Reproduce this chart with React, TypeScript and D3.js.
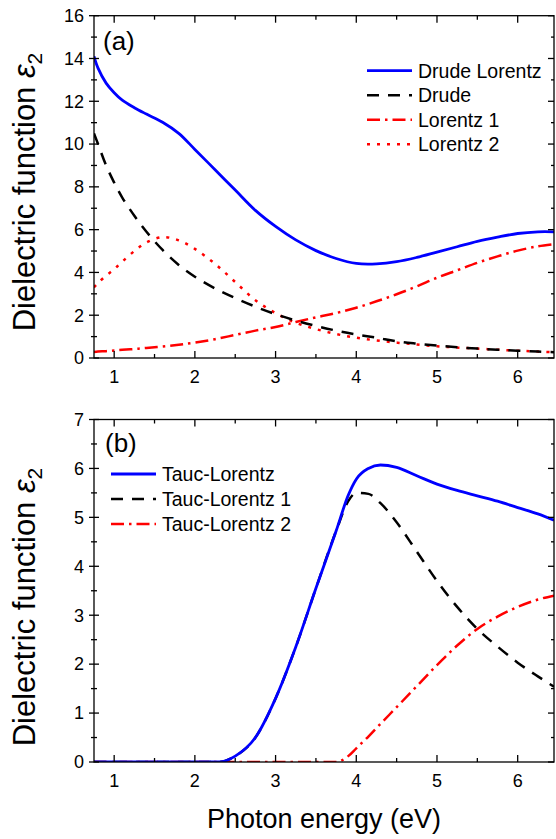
import React from "react";
import * as d3 from "d3";

// panel (a): Drude-Lorentz fit components
const energyA = [0.75, 0.8, 0.9, 1.0, 1.1, 1.25, 1.4, 1.6, 1.8, 2.0, 2.25, 2.5, 2.75, 3.0, 3.25, 3.5, 3.75, 4.0, 4.25, 4.5, 4.75, 5.0, 5.25, 5.5, 5.75, 6.0, 6.25, 6.45];
const drudeLorentz = [14.1, 13.55, 12.85, 12.4, 12.05, 11.7, 11.4, 11.02, 10.5, 9.75, 8.8, 7.85, 6.9, 6.15, 5.52, 5.02, 4.65, 4.42, 4.4, 4.5, 4.7, 4.95, 5.2, 5.45, 5.65, 5.82, 5.9, 5.9];
const drude = [10.5, 10.0, 9.0, 8.2, 7.5, 6.65, 5.9, 5.05, 4.35, 3.8, 3.25, 2.8, 2.4, 2.05, 1.75, 1.5, 1.28, 1.1, 0.95, 0.78, 0.67, 0.58, 0.5, 0.44, 0.39, 0.34, 0.3, 0.27];
const lorentz1 = [0.28, 0.3, 0.32, 0.35, 0.38, 0.42, 0.47, 0.54, 0.62, 0.72, 0.88, 1.08, 1.28, 1.45, 1.68, 1.9, 2.1, 2.35, 2.65, 2.98, 3.35, 3.75, 4.1, 4.45, 4.75, 5.02, 5.22, 5.32];
const lorentz2 = [3.3, 3.5, 3.85, 4.15, 4.5, 5.0, 5.4, 5.65, 5.5, 5.1, 4.4, 3.55, 2.7, 2.1, 1.65, 1.35, 1.12, 0.95, 0.82, 0.72, 0.63, 0.55, 0.49, 0.44, 0.39, 0.34, 0.3, 0.27];

// panel (b): Tauc-Lorentz fit components
const energyB = [0.75, 1.5, 2.0, 2.3, 2.5, 2.75, 3.0, 3.25, 3.5, 3.75, 3.9, 4.0, 4.15, 4.3, 4.5, 4.75, 5.0, 5.25, 5.5, 5.75, 6.0, 6.25, 6.45];
const taucLorentz = [0, 0, 0, 0, 0.12, 0.5, 1.3, 2.35, 3.55, 4.72, 5.45, 5.78, 6.0, 6.07, 6.02, 5.85, 5.68, 5.55, 5.44, 5.33, 5.2, 5.07, 4.94];
const taucLorentz1 = [0, 0, 0, 0, 0.12, 0.5, 1.3, 2.35, 3.55, 4.72, 5.33, 5.5, 5.48, 5.29, 4.9, 4.3, 3.7, 3.17, 2.72, 2.36, 2.03, 1.75, 1.54];
const taucLorentz2 = [0, 0, 0, 0, 0, 0, 0, 0, 0, 0, 0.12, 0.28, 0.52, 0.78, 1.12, 1.55, 1.98, 2.38, 2.72, 2.97, 3.17, 3.32, 3.4];

const xTicks = [1, 2, 3, 4, 5, 6];
const xMinor = [1.5, 2.5, 3.5, 4.5, 5.5, 6.5];
const yTicksA = [0, 2, 4, 6, 8, 10, 12, 14, 16];
const yTicksB = [0, 1, 2, 3, 4, 5, 6, 7];

const FONT = "'Liberation Sans', Arial, sans-serif";
const left = 94;
const right = 554;

const x = d3.scaleLinear().domain([0.75, 6.45]).range([left, right]);

const Frame = ({ y, ticks, minor, top, bottom }) => {
  const minorX = xMinor.filter((v) => x(v) < right);
  return (
    <g stroke="#000" strokeWidth={1.3} fill="none">
      <rect x={left} y={top} width={right - left} height={bottom - top} />
      {xTicks.map((t) => (
        <g key={"x" + t}>
          <line x1={x(t)} x2={x(t)} y1={bottom} y2={bottom - 7} />
          <line x1={x(t)} x2={x(t)} y1={top} y2={top + 7} />
        </g>
      ))}
      {minorX.map((t) => (
        <g key={"xm" + t}>
          <line x1={x(t)} x2={x(t)} y1={bottom} y2={bottom - 4} />
          <line x1={x(t)} x2={x(t)} y1={top} y2={top + 4} />
        </g>
      ))}
      {ticks.map((t) => (
        <g key={"y" + t}>
          <line x1={left - 5} x2={left + 5} y1={y(t)} y2={y(t)} />
          <line x1={right} x2={right - 6} y1={y(t)} y2={y(t)} />
        </g>
      ))}
      {minor.map((t) => (
        <g key={"ym" + t}>
          <line x1={left - 3} x2={left + 3} y1={y(t)} y2={y(t)} />
          <line x1={right} x2={right - 3} y1={y(t)} y2={y(t)} />
        </g>
      ))}
    </g>
  );
};

const TickLabels = ({ y, ticks, bottom }) => (
  <g fontFamily={FONT} fontSize={18} fill="#000">
    {xTicks.map((t) => (
      <text key={"xl" + t} x={x(t)} y={bottom + 25} textAnchor="middle">
        {t}
      </text>
    ))}
    {ticks.map((t) => (
      <text key={"yl" + t} x={84} y={y(t) + 6.3} textAnchor="end">
        {t}
      </text>
    ))}
  </g>
);

const YLabel = ({ cy }) => (
  <text
    transform={`translate(34.5,${cy}) rotate(-90)`}
    textAnchor="middle"
    fontFamily={FONT}
    fontSize={31}
    fill="#000"
  >
    Dielectric function <tspan fontStyle="italic">ε</tspan>
    <tspan fontSize={21} dy={7}>2</tspan>
  </text>
);

const styles = {
  solid: { stroke: "#0000ff", width: 2.8, dash: null },
  dash: { stroke: "#000", width: 2.5, dash: "12,9" },
  dashDot: { stroke: "#ff0000", width: 2.5, dash: "13,5,2.5,5" },
  dot: { stroke: "#ff0000", width: 2.5, dash: "3,7" },
};

const Curve = ({ xs, ys, y, st, curve }) => {
  const line = d3
    .line()
    .x((d) => x(d[0]))
    .y((d) => y(d[1]))
    .curve(curve);
  const pts = xs.map((v, i) => [v, ys[i]]);
  return (
    <path
      d={line(pts)}
      fill="none"
      stroke={st.stroke}
      strokeWidth={st.width}
      strokeDasharray={st.dash || undefined}
    />
  );
};

const Legend = ({ items, x0, y0, gap }) => (
  <g>
    {items.map((it, i) => (
      <g key={it.label}>
        <line
          x1={x0}
          x2={x0 + 45}
          y1={y0 + i * gap}
          y2={y0 + i * gap}
          stroke={it.st.stroke}
          strokeWidth={it.st.width}
          strokeDasharray={it.st.dash || undefined}
        />
        <text x={x0 + 51} y={y0 + i * gap + 7} fontFamily={FONT} fontSize={19.5} fill="#000">
          {it.label}
        </text>
      </g>
    ))}
  </g>
);

export default function App() {
  const topA = 15.7;
  const botA = 358;
  const topB = 419.5;
  const botB = 762;
  const yA = d3.scaleLinear().domain([0, 16]).range([botA, topA]);
  const yB = d3.scaleLinear().domain([0, 7]).range([botB, topB]);
  const minorA = d3.range(1, 16, 2);
  const minorB = d3.range(0.5, 7, 1);
  const smooth = d3.curveCatmullRom.alpha(0.5);
  const mono = d3.curveMonotoneX;

  return (
    <svg
      width={556}
      height={839}
      style={{ position: "absolute", left: 0, top: 0, background: "#fff" }}
    >
      <defs>
        <clipPath id="clipA">
          <rect x={left} y={topA} width={right - left} height={botA - topA} />
        </clipPath>
        <clipPath id="clipB">
          <rect x={left} y={topB} width={right - left} height={botB - topB} />
        </clipPath>
      </defs>

      {/* panel (a) */}
      <g clipPath="url(#clipA)">
        <Curve xs={energyA} ys={lorentz2} y={yA} st={styles.dot} curve={smooth} />
        <Curve xs={energyA} ys={lorentz1} y={yA} st={styles.dashDot} curve={smooth} />
        <Curve xs={energyA} ys={drude} y={yA} st={styles.dash} curve={smooth} />
        <Curve xs={energyA} ys={drudeLorentz} y={yA} st={styles.solid} curve={smooth} />
      </g>
      <Frame y={yA} ticks={yTicksA} minor={minorA} top={topA} bottom={botA} />
      <TickLabels y={yA} ticks={yTicksA} bottom={botA} />
      <text x={103} y={50} fontFamily={FONT} fontSize={26}>(a)</text>
      <Legend
        x0={367}
        y0={70.7}
        gap={24.5}
        items={[
          { label: "Drude Lorentz", st: styles.solid },
          { label: "Drude", st: styles.dash },
          { label: "Lorentz 1", st: styles.dashDot },
          { label: "Lorentz 2", st: styles.dot },
        ]}
      />
      <YLabel cy={192} />

      {/* panel (b) */}
      <g clipPath="url(#clipB)">
        <Curve xs={energyB} ys={taucLorentz1} y={yB} st={styles.dash} curve={mono} />
        <Curve xs={energyB} ys={taucLorentz2} y={yB} st={styles.dashDot} curve={mono} />
        <Curve xs={energyB} ys={taucLorentz} y={yB} st={styles.solid} curve={mono} />
      </g>
      <Frame y={yB} ticks={yTicksB} minor={minorB} top={topB} bottom={botB} />
      <TickLabels y={yB} ticks={yTicksB} bottom={botB} />
      <text x={105} y={452} fontFamily={FONT} fontSize={26}>(b)</text>
      <Legend
        x0={111}
        y0={474}
        gap={25}
        items={[
          { label: "Tauc-Lorentz", st: styles.solid },
          { label: "Tauc-Lorentz 1", st: styles.dash },
          { label: "Tauc-Lorentz 2", st: styles.dashDot },
        ]}
      />
      <YLabel cy={607} />

      <text
        x={(left + right) / 2}
        y={828}
        textAnchor="middle"
        fontFamily={FONT}
        fontSize={27}
      >
        Photon energy (eV)
      </text>
    </svg>
  );
}
